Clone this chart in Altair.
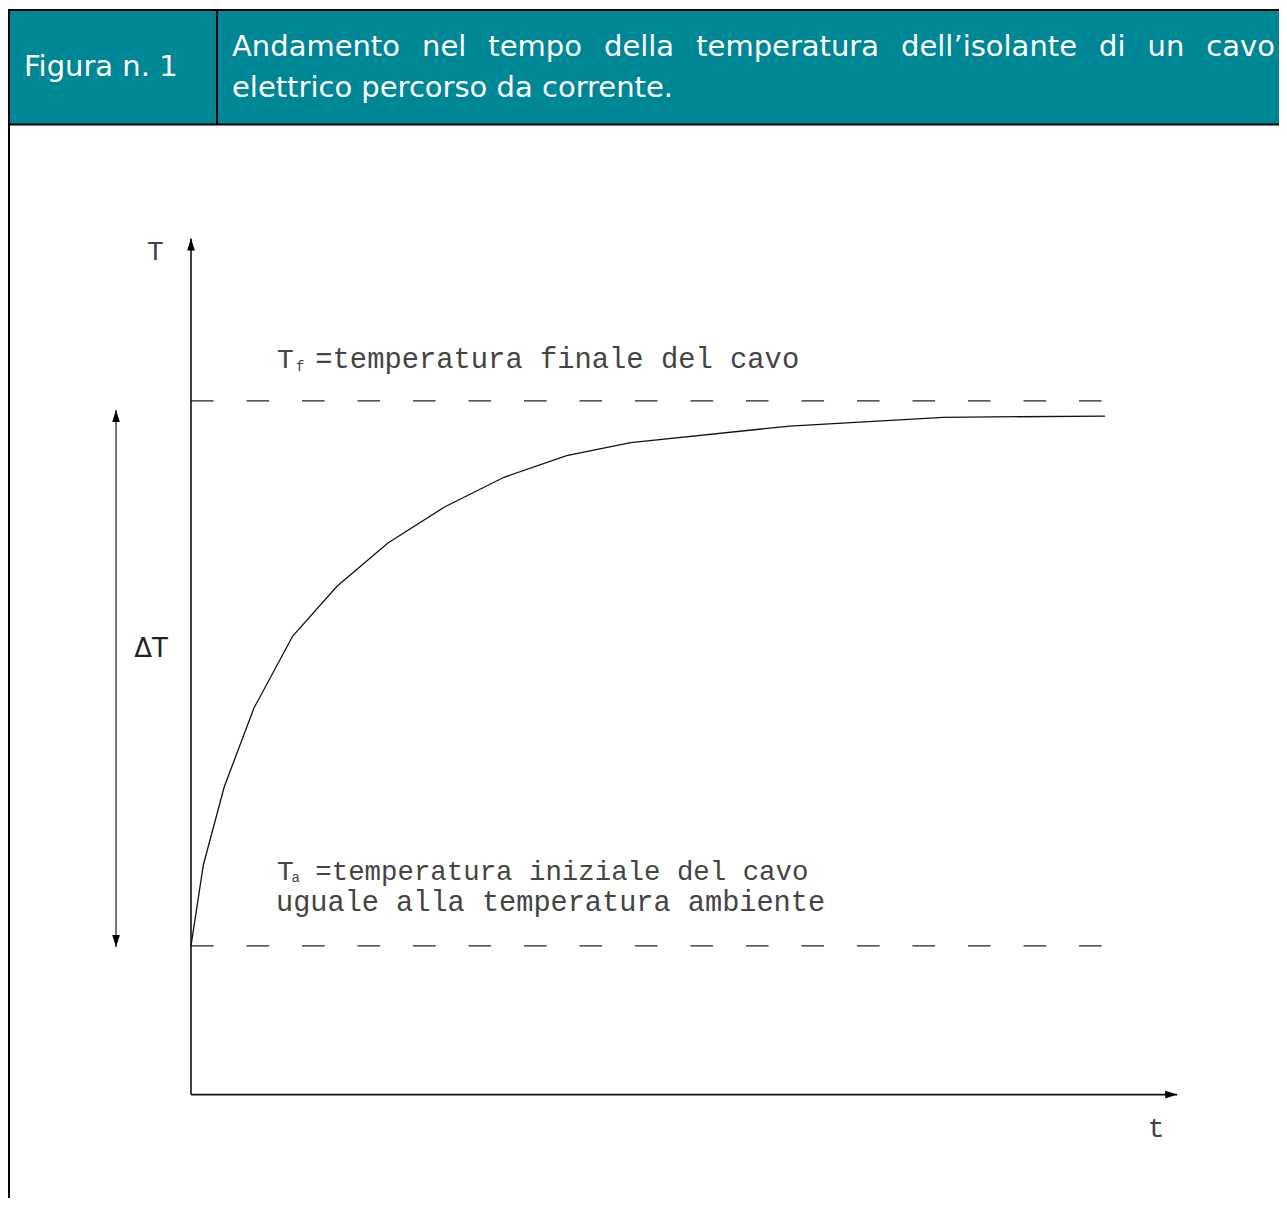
import altair as alt
import pandas as pd

# ---------------- values ----------------
# heating curve of the cable insulation (t = time units, T = temperature units)
curve_t = [0, 1.35, 3.64, 6.89, 11.13, 16.0, 21.55, 27.79, 34.25, 41.1, 48.1, 65.5, 82.3, 100]
curve_T = [15, 23.17, 31.07, 39.01, 46.28, 51.33, 55.67, 59.33, 62.3, 64.48, 65.79, 67.47, 68.35, 68.48]

T_ambient = 15.0        # Ta, initial temperature = ambient
T_final = 70.0          # Tf, final temperature of the cable
ref_t_end = 99.7        # end of the two dashed reference lines
axis_t_end = 107.9      # tip of the time axis arrow
axis_T_end = 86.4       # tip of the temperature axis arrow
delta_t = -8.2          # position of the ΔT double arrow
delta_T = [14.9, 69.1]  # ends of the ΔT double arrow

# ---------------- texts ----------------
fig_label = "Figura n. 1"
title_line1 = ["Andamento", "nel", "tempo", "della", "temperatura",
               "dell\u2019isolante", "di", "un", "cavo"]
title_line2 = "elettrico percorso da corrente."
axis_T_label = "T"
axis_t_label = "t"
delta_label = "\u0394T"
tf_text = ["T", "f", "=temperatura finale del cavo"]
ta_text = ["T", "a", "=temperatura iniziale del cavo", "uguale alla temperatura ambiente"]

# ---------------- layout ----------------
W, H = 1271, 1190
OFF = 8
X0 = 191 - OFF          # pixel of t = 0
Y0 = 1094.6 - OFF       # pixel of T = 0
PX_t = 9.14             # pixels per time unit
PX_T = 9.909            # pixels per temperature unit
t_dom = [-X0 / PX_t, (W - X0) / PX_t]
T_dom = [(Y0 - H) / PX_T, Y0 / PX_T]
xs = alt.Scale(domain=t_dom, nice=False, zero=False)
ys = alt.Scale(domain=T_dom, nice=False, zero=False)

TEAL = "#008796"
INK = "#111111"
CAD = "#444444"
HEAD_FONT = "DejaVu Sans"
CAD_FONT = "Liberation Mono"

one = pd.DataFrame({"k": [0]})


def X(f):
    return alt.X(f, type="quantitative", scale=xs, axis=None)


def Y(f):
    return alt.Y(f, type="quantitative", scale=ys, axis=None)


layers = []

# ---- header band ----
layers.append(alt.Chart(one).mark_rect(fill=TEAL, stroke="black", strokeWidth=2).encode(
    x=alt.value(1), x2=alt.value(W + 30), y=alt.value(2), y2=alt.value(116.5)))
layers.append(alt.Chart(one).mark_rule(color="black", strokeWidth=2).encode(
    x=alt.value(209), y=alt.value(2), y2=alt.value(116.5)))
layers.append(alt.Chart(one).mark_rule(color="black", strokeWidth=2).encode(
    x=alt.value(1), y=alt.value(2), y2=alt.value(H + 30)))

HS = 29
layers.append(alt.Chart(one).mark_text(
    text=fig_label, font=HEAD_FONT, fontSize=HS, color="white", align="left", baseline="alphabetic"
).encode(x=alt.value(16), y=alt.value(68)))

# justified first title line (DejaVu Sans advance widths, em units)
adv = {" ": .318, "A": .684, "a": .613, "c": .550, "d": .635, "e": .615, "i": .278, "l": .278,
       "m": .974, "n": .634, "o": .612, "p": .635, "r": .411, "s": .521, "t": .392, "u": .634,
       "v": .592, "\u2019": .318}
left, right = 224, 1267
widths = [sum(adv.get(ch, .6) for ch in w) * HS for w in title_line1]
gap = (right - left - sum(widths)) / (len(title_line1) - 1)
pos = left
for w, wd in zip(title_line1, widths):
    layers.append(alt.Chart(one).mark_text(
        text=w, font=HEAD_FONT, fontSize=HS, color="white", align="left", baseline="alphabetic"
    ).encode(x=alt.value(pos), y=alt.value(48)))
    pos += wd + gap
layers.append(alt.Chart(one).mark_text(
    text=title_line2, font=HEAD_FONT, fontSize=HS, color="white", align="left", baseline="alphabetic"
).encode(x=alt.value(left), y=alt.value(89)))

# ---- dashed reference lines Tf and Ta ----
refs = pd.DataFrame({"t0": [0, 0], "t1": [ref_t_end, ref_t_end], "T": [T_final, T_ambient]})
layers.append(alt.Chart(refs).mark_rule(color="#222222", strokeWidth=1.3, strokeDash=[22.6, 32.9]).encode(
    x=X("t0"), x2=alt.X2("t1"), y=Y("T")))

# ---- curve ----
curve = pd.DataFrame({"t": curve_t, "T": curve_T})
layers.append(alt.Chart(curve).mark_line(color=INK, strokeWidth=1.3).encode(x=X("t"), y=Y("T")))

# ---- axes ----
ax_v = pd.DataFrame({"t": [0], "T0": [0], "T1": [axis_T_end]})
ax_h = pd.DataFrame({"t0": [0], "t1": [axis_t_end], "T": [0]})
layers.append(alt.Chart(ax_v).mark_rule(color=INK, strokeWidth=1.6).encode(x=X("t"), y=Y("T0"), y2=alt.Y2("T1")))
layers.append(alt.Chart(ax_h).mark_rule(color=INK, strokeWidth=1.6).encode(x=X("t0"), x2=alt.X2("t1"), y=Y("T")))

# ---- ΔT double arrow ----
dT = pd.DataFrame({"t": [delta_t], "T0": [delta_T[0]], "T1": [delta_T[1]]})
layers.append(alt.Chart(dT).mark_rule(color="#333333", strokeWidth=1.3).encode(x=X("t"), y=Y("T0"), y2=alt.Y2("T1")))

UP = "M0,0L-0.64,2L0.64,2Z"
DOWN = "M0,0L-0.64,-2L0.64,-2Z"
RIGHT = "M0,0L-2,-0.64L-2,0.64Z"
heads = [
    (UP, 0, axis_T_end),
    (RIGHT, axis_t_end, 0),
    (UP, delta_t, delta_T[1]),
    (DOWN, delta_t, delta_T[0]),
]
for shp, tt, TT in heads:
    layers.append(alt.Chart(pd.DataFrame({"t": [tt], "T": [TT]})).mark_point(
        shape=shp, filled=True, size=144, color="black", opacity=1).encode(x=X("t"), y=Y("T")))


# ---- CAD-style labels ----
def label(txt, tt, TT, size=28, align="left", font=CAD_FONT, color=CAD):
    return alt.Chart(pd.DataFrame({"t": [tt], "T": [TT]})).mark_text(
        text=txt, font=font, fontSize=size, color=color, align=align, baseline="alphabetic"
    ).encode(x=X("t"), y=Y("T"))


layers.append(label(axis_T_label, -3.9, 84.2, align="center"))
layers.append(label(axis_t_label, 105.6, -4.3, align="center"))
layers.append(label(delta_label, -4.38, 44.16, size=26, align="center", font="DejaVu Sans", color="#222222"))

layers.append(label(tf_text[0], 9.4, 73.33))
layers.append(label(tf_text[1], 11.5, 73.0, size=14))
layers.append(label(tf_text[2], 13.6, 73.33, size=28.8))

layers.append(label(ta_text[0], 9.4, 21.66))
layers.append(label(ta_text[1], 11.0, 21.45, size=14))
layers.append(label(ta_text[2], 13.6, 21.66, size=27.4))
layers.append(label(ta_text[3], 9.3, 18.53, size=28.6))

chart = alt.layer(*layers).properties(
    width=W, height=H, padding=0, background="white",
    autosize=alt.AutoSizeParams(type="none")
).configure_view(stroke=None)

chart.save("out.html", embed_options={"renderer": "svg", "actions": False})
